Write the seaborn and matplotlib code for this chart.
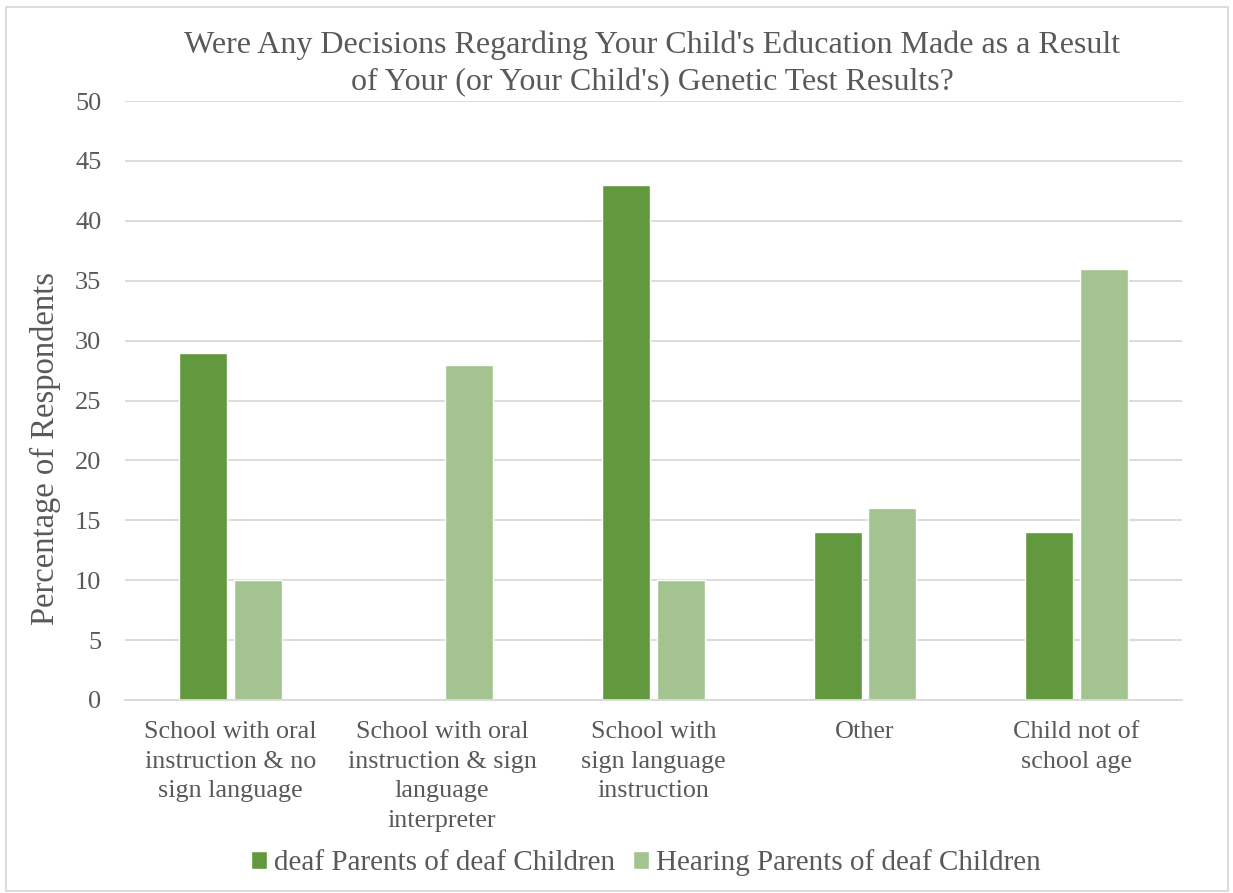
import matplotlib
matplotlib.use("Agg")
import matplotlib.pyplot as plt
import seaborn as sns
import pandas as pd
from matplotlib.patches import Rectangle

categories = [
    "School with oral\ninstruction & no\nsign language",
    "School with oral\ninstruction & sign\nlanguage\ninterpreter",
    "School with\nsign language\ninstruction",
    "Other",
    "Child not of\nschool age",
]
series_names = ["deaf Parents of deaf Children", "Hearing Parents of deaf Children"]
deaf_parents = [29, 0, 43, 14, 14]
hearing_parents = [10, 28, 10, 16, 36]
y_ticks = [0, 5, 10, 15, 20, 25, 30, 35, 40, 45, 50]

colors = ["#62993E", "#A3C490"]
text_color = "#595959"
grid_color = "#D9D9D9"

df = pd.DataFrame({
    "category": categories * 2,
    "series": [series_names[0]] * len(categories) + [series_names[1]] * len(categories),
    "value": deaf_parents + hearing_parents,
})

sns.set_theme(style="white")
plt.rcParams["font.family"] = ["Liberation Serif", "DejaVu Serif"]

fig = plt.figure(figsize=(12.33, 8.93), dpi=100)
ax = fig.add_axes([125 / 1233, 1 - 700 / 893, (1182 - 125) / 1233, (700 - 101) / 893])

sns.barplot(data=df, x="category", y="value", hue="series", order=categories,
            hue_order=series_names, palette=colors, width=0.516, gap=0.12,
            saturation=1, ax=ax, legend=True)

ax.set_xlim(-0.5, len(categories) - 0.5)
ax.set_ylim(0, 50)
ax.set_yticks(y_ticks)
ax.set_yticklabels([str(t) for t in y_ticks])
ax.yaxis.grid(True, color=grid_color, linewidth=1.3)
ax.set_axisbelow(True)
for side in ["top", "right", "left"]:
    ax.spines[side].set_visible(False)
ax.spines["bottom"].set_color(grid_color)
ax.spines["bottom"].set_linewidth(1.3)
ax.tick_params(axis="y", length=0, colors=text_color, labelsize=19, pad=17)
ax.tick_params(axis="x", length=0, colors=text_color, labelsize=18.8, pad=15)
for lbl in ax.get_xticklabels():
    lbl.set_linespacing(1.46)
ax.set_xlabel("")
ax.set_ylabel("Percentage of Respondents", fontsize=23.5, color=text_color)
ax.yaxis.set_label_coords(-0.061, 0.42)

fig.suptitle("Were Any Decisions Regarding Your Child's Education Made as a Result\n"
             "of Your (or Your Child's) Genetic Test Results?",
             x=652 / 1233, y=1 - 31 / 893, fontsize=23, color=text_color,
             linespacing=1.34, va="top")

handles, labels = ax.get_legend_handles_labels()
ax.legend_.remove()
leg = fig.legend(handles, labels, loc="center", bbox_to_anchor=(646 / 1233, 1 - 863 / 893),
                 ncol=2, frameon=False, fontsize=21, handlelength=0.55, handleheight=0.55,
                 handletextpad=0.25, columnspacing=0.6, labelcolor=text_color)

fig.patches.append(Rectangle((6 / 1233, 2 / 893), 1222 / 1233, 884 / 893,
                             transform=fig.transFigure, fill=False,
                             edgecolor=grid_color, linewidth=1.3))

fig.savefig("out.png", dpi=100, facecolor="white")
